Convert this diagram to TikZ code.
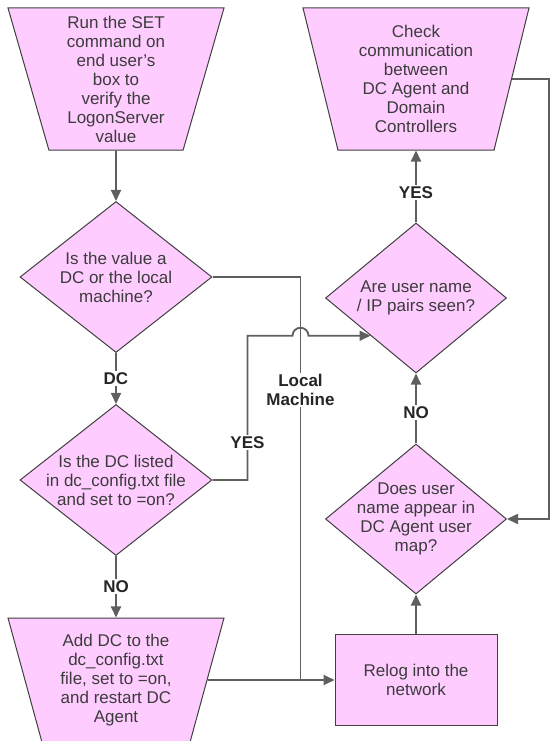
\documentclass[tikz,border=0pt]{standalone}
\usepackage{fontspec}
\setmainfont{Liberation Sans}
\usetikzlibrary{arrows.meta, shapes.geometric, calc}

\definecolor{boxpink}{RGB}{255,204,255}
\definecolor{edgegray}{RGB}{95,95,95}
\definecolor{textgray}{RGB}{60,60,60}

\begin{document}
\begin{tikzpicture}[x=1pt, y=1pt, >={Triangle[length=11pt,width=10pt]},
                    node distance=200pt]
\tikzstyle{trap}=[trapezium, shape border rotate=180, trapezium angle=72.6,
                    trapezium stretches body=true,
                    draw=black!75, line width=1pt, fill=boxpink, text=textgray,
                    align=center, inner sep=2pt, minimum width=216pt,
                    minimum height=142pt, font=\fontsize{17}{19}\selectfont]
\tikzstyle{decision}=[diamond, draw=black!75, line width=1pt, fill=boxpink,
                    inner sep=0pt, minimum width=192pt, minimum height=151pt]
\tikzstyle{dtext}=[text=textgray, align=center, inner sep=0pt,
                    font=\fontsize{17}{19}\selectfont]
\tikzstyle{process}=[rectangle, draw=black!75, line width=1pt, fill=boxpink,
                    text=textgray, align=center, minimum width=162pt,
                    minimum height=91pt, font=\fontsize{17}{19}\selectfont]
\tikzstyle{lbl}=[fill=white, inner sep=1.5pt, text=black!85, align=center,
                    font=\bfseries\fontsize{17}{19}\selectfont]
\tikzstyle{link}=[color=edgegray, line width=1.8pt]
  \useasboundingbox (0,0) rectangle (551,-741);
  %
  \node[trap] (run) at (116,-79) {Run the SET\\command on\\end user’s\\box to\\verify the\\LogonServer\\value};
  \node[decision, label={[dtext]center:{Is the value a\\DC or the local\\machine?}}] (isval) [below of=run, node distance=198pt] {};
  \node[decision, label={[dtext]center:{Is the DC listed\\in dc\_config.txt file\\and set to =on?}}] (listed) [below of=isval, node distance=203pt] {};
  \node[trap, minimum height=124pt, trapezium angle=70.5] (add) [below of=listed] {Add DC to the\\dc\_config.txt\\file, set to =on,\\and restart DC\\Agent};
  %
  \node[trap, minimum width=226pt] (check) [right of=run, node distance=300pt] {Check\\communication\\between\\DC Agent and\\Domain\\Controllers};
  \node[decision, minimum width=181pt, minimum height=150pt, label={[dtext]center:{Are user name\\/ IP pairs seen?}}] (seen) [below of=check, node distance=219pt] {};
  \node[decision, minimum width=181pt, minimum height=150pt, label={[dtext]center:{Does user\\name appear in\\DC Agent user\\map?}}] (appear) [below of=seen, node distance=221pt] {};
  \node[process] (relog) [below of=appear, node distance=161pt] {Relog into the\\network};
  %
  \coordinate (lmx) at ($(isval.east)+(88,0)$);
  \coordinate (yesx) at ($(listed.east)+(35,0)$);
  \coordinate (rx) at ($(check.center)+(133,0)$);
  %
  \path[->, link] (run) edge (isval);
  \path[->, link] (isval) edge node[lbl] {DC} (listed);
  \path[->, link] (listed) edge node[lbl] {NO} (add);
  \path[->, link] (add) edge (relog);
  \path[->, link] (relog) edge (appear);
  \path[->, link] (appear) edge node[lbl, pos=0.44] {NO} (seen);
  \path[->, link] (seen) edge node[lbl, pos=0.42] {YES} (check);
  %
  \draw[link] (isval) -| node[lbl, pos=0.64] {Local\\Machine} (lmx |- relog);
  \draw[->, link] (listed) -- (yesx |- listed) -- node[lbl, pos=0.26] {YES} (yesx |- seen.south west)
        -- ($(lmx |- seen.south west)+(-8,0)$) arc[start angle=180, end angle=0, radius=8pt] -- (seen.south west);
  \draw[->, link] (check) -| (rx |- appear) -- (appear);
\end{tikzpicture}
\end{document}
